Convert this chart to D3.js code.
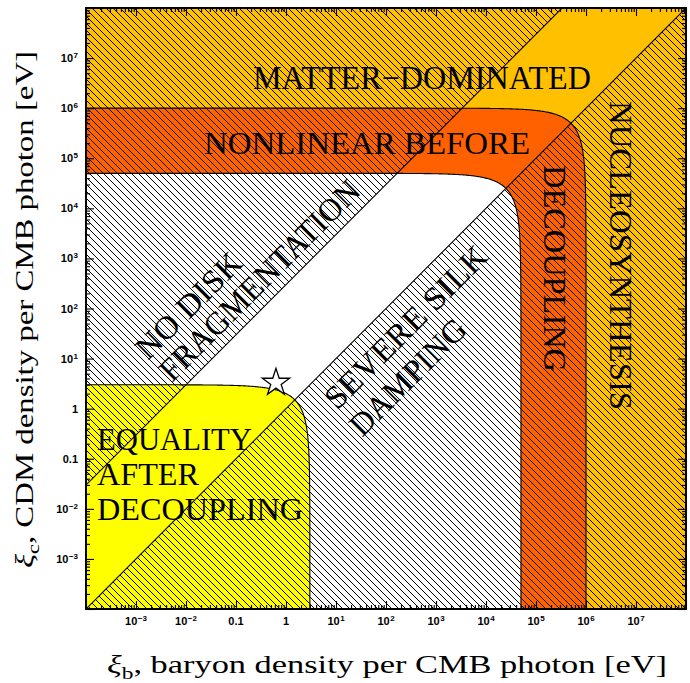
<!DOCTYPE html>
<html><head><meta charset="utf-8">
<script src="https://cdn.jsdelivr.net/npm/d3@7"></script>
<style>body{margin:0;background:#fff}svg{display:block}</style>
</head><body>
<svg id="c" width="690" height="683"></svg>
<script>
// ---------- data ----------
const axisDomain = [1e-4, 1e8];
const tickValues = [1e-3, 1e-2, 0.1, 1, 10, 100, 1e3, 1e4, 1e5, 1e6, 1e7];
const tickBase = ["10", "10", "0.1", "1", "10", "10", "10", "10", "10", "10", "10"];
const tickExp  = ["−3", "−2", "", "", "1", "2", "3", "4", "5", "6", "7"];
// thresholds on total matter density xi_b + xi_c [eV]
const equalityMax = 3;      // yellow: equality after decoupling
const nonlinearMin = 5e4;   // inner edge of orange band
const matterMin = 1e6;      // outer edge of orange band
// ratio xi_c / xi_b boundaries of hatched zones
const silkRatio = 1;        // below: severe Silk damping
const diskRatio = 300;      // above: no disk fragmentation
const observed = [0.63, 3.3]; // star [xi_b, xi_c]
const colGold = "#FFC000", colOrange = "#FF6000", colYellow = "#FFFF00";

// ---------- setup ----------
const P = {l: 86, r: 686, t: 8, b: 609};
const x = d3.scaleLog().domain(axisDomain).range([P.l, P.r]);
const y = d3.scaleLog().domain(axisDomain).range([P.b, P.t]);
const svg = d3.select("#c");
const defs = svg.append("defs");
defs.append("clipPath").attr("id", "clip").append("rect")
  .attr("x", P.l).attr("y", P.t).attr("width", P.r - P.l).attr("height", P.b - P.t);
const pat = defs.append("pattern").attr("id", "hatch").attr("patternUnits", "userSpaceOnUse")
  .attr("width", 7).attr("height", 7);
pat.append("path").attr("d", "M-1,-1L8,8M-1,6L1,8M6,-1L8,1")
  .attr("stroke", "#000").attr("stroke-width", 1).attr("shape-rendering", "crispEdges").attr("fill", "none");

const line = d3.line().x(d => x(d[0])).y(d => y(d[1]));
const lo = axisDomain[0] * 0.5, hi = axisDomain[1] * 2;

function totalCurve(C) {
  const s0 = lo / C, kmax = Math.log((1 - s0) / s0);
  const pts = [];
  const n = 800;
  for (let i = 0; i <= n; i++) {
    const k = -kmax + 2 * kmax * i / n;
    const s = 1 / (1 + Math.exp(-k));
    pts.push([C * s, C * (1 - s)]);
  }
  return pts;
}
function totalRegion(C) {
  return [[lo, lo], ...totalCurve(C), [lo, lo]];
}

const g = svg.append("g").attr("clip-path", "url(#clip)");
g.append("rect").attr("x", P.l).attr("y", P.t).attr("width", P.r - P.l).attr("height", P.b - P.t).attr("fill", colGold);
g.append("path").attr("d", line(totalRegion(matterMin))).attr("fill", colOrange);
g.append("path").attr("d", line(totalRegion(nonlinearMin))).attr("fill", "#fff");
g.append("path").attr("d", line(totalRegion(equalityMax))).attr("fill", colYellow);

// hatched zones
const silkZone = [[lo, lo * silkRatio], [hi, hi * silkRatio], [hi, lo], [lo, lo]];
const diskZone = [[lo, lo * diskRatio], [hi, hi * diskRatio], [lo, hi], [lo, lo * diskRatio]];
g.append("path").attr("d", line(silkZone)).attr("fill", "url(#hatch)");
g.append("path").attr("d", line(diskZone)).attr("fill", "url(#hatch)");

[matterMin, nonlinearMin, equalityMax].forEach(C => {
  g.append("path").attr("d", line(totalCurve(C))).attr("fill", "none").attr("stroke", "#000").attr("stroke-width", 1.1);
});
g.append("path").attr("d", line([[lo, lo * silkRatio], [hi, hi * silkRatio]])).attr("stroke", "#000").attr("stroke-width", 1.1).attr("fill", "none");
g.append("path").attr("d", line([[lo, lo * diskRatio], [hi, hi * diskRatio]])).attr("stroke", "#000").attr("stroke-width", 1.1).attr("fill", "none");

// ---------- region labels ----------
const serif = "'Liberation Serif', 'Times New Roman', serif";
function label(txt, px, py, len, rot, size) {
  svg.append("text").attr("transform", `translate(${px},${py}) rotate(${rot})`)
    .attr("font-family", serif).attr("font-size", size || 32).attr("fill", "#000")
    .attr("textLength", len).attr("lengthAdjust", "spacingAndGlyphs").text(txt);
}
label("MATTER−DOMINATED", 253, 89, 338, 0, 33);
label("NONLINEAR BEFORE", 204, 154, 326, 0, 32);
label("EQUALITY", 97, 450, 155, 0, 32);
label("AFTER", 97, 485, 102, 0, 32);
label("DECOUPLING", 97, 520, 206, 0, 32);
label("NO DISK", 148, 361, 136, -45, 32);
label("FRAGMENTATION", 172, 383, 269, -45, 32);
label("SEVERE SILK", 337, 411, 216, -45, 32);
label("DAMPING", 362, 438, 151, -45, 32);
label("DECOUPLING", 544, 165, 207, 90, 32);
label("NUCLEOSYNTHESIS", 610, 101, 309, 90, 32);

// star
svg.append("path").attr("d", d3.symbol(d3.symbolStar).size(230)())
  .attr("transform", `translate(${x(observed[0])},${y(observed[1])})`)
  .attr("fill", "#fff").attr("stroke", "#000").attr("stroke-width", 1.3);

// ---------- axes ----------
const majors = d3.range(-4, 9).map(e => Math.pow(10, e));
const minors = [];
d3.range(-4, 8).forEach(e => d3.range(2, 10).forEach(k => minors.push(k * Math.pow(10, e))));
function drawAxis(axisFn, scale, pos, values, size) {
  const a = svg.append("g").attr("transform", pos)
    .call(axisFn(scale).tickValues(values).tickSize(size).tickSizeOuter(0).tickFormat(""));
  a.select(".domain").remove();
  a.selectAll("line").attr("stroke", "#000").attr("stroke-width", 1.1);
}
[[majors, 8], [minors, 4]].forEach(([vals, len]) => {
  drawAxis(d3.axisBottom, x, `translate(0,${P.b})`, vals, -len);
  drawAxis(d3.axisTop, x, `translate(0,${P.t})`, vals, -len);
  drawAxis(d3.axisLeft, y, `translate(${P.l},0)`, vals, -len);
  drawAxis(d3.axisRight, y, `translate(${P.r},0)`, vals, -len);
});
svg.append("rect").attr("x", P.l).attr("y", P.t).attr("width", P.r - P.l).attr("height", P.b - P.t)
  .attr("fill", "none").attr("stroke", "#000").attr("stroke-width", 2);

const sans = "'Liberation Sans', Arial, sans-serif";
tickValues.forEach((v, i) => {
  const t = svg.append("text").attr("x", x(v)).attr("y", 625).attr("text-anchor", "middle")
    .attr("font-family", sans).attr("font-weight", "bold").attr("font-size", 11);
  t.append("tspan").text(tickBase[i]);
  if (tickExp[i]) t.append("tspan").attr("font-size", 8).attr("dy", -4).attr("dx", 0.5).text(tickExp[i]);
  const u = svg.append("text").attr("x", 78).attr("y", y(v) + 4).attr("text-anchor", "end")
    .attr("font-family", sans).attr("font-weight", "bold").attr("font-size", 11);
  u.append("tspan").text(tickBase[i]);
  if (tickExp[i]) u.append("tspan").attr("font-size", 8).attr("dy", -4).attr("dx", 0.5).text(tickExp[i]);
});

// axis titles
function title(px, py, rot, sub, rest, len) {
  const t = svg.append("text").attr("transform", `translate(${px},${py}) rotate(${rot})`)
    .attr("font-family", serif).attr("font-size", 25).attr("fill", "#000")
    .attr("textLength", len).attr("lengthAdjust", "spacingAndGlyphs");
  t.append("tspan").attr("font-style", "italic").text("ξ");
  t.append("tspan").attr("font-size", 17).attr("dy", 6).text(sub);
  t.append("tspan").attr("dy", -6).text(rest);
}
title(107, 673, 0, "b", ", baryon density per CMB photon [eV]", 560);
title(33, 568, -90, "c", ", CDM density per CMB photon [eV]", 517);
</script>
</body></html>
